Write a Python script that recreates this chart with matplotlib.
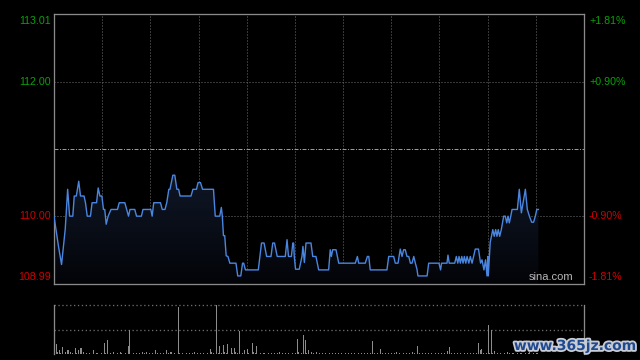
import numpy as np
import matplotlib
matplotlib.use("Agg")
import matplotlib.pyplot as plt
from matplotlib.colors import LinearSegmentedColormap
import matplotlib.patheffects as pe

# ---- data (minutes from session open, HK session = 330 minutes) ----
price_minutes = [0, 2.8, 4.7, 7.0, 8.5, 9.7, 11.7, 12.6, 13.9, 15.4, 16.5, 18.7, 19.6, 20.7,
                 22.7, 23.7, 26.5, 27.5, 28.6, 29.8, 30.8, 31.6, 32.5, 33.7, 35.5, 39.5, 40.6,
                 44.1, 46.4, 47.3, 50.3, 51.4, 54.4, 55.4, 60.3, 61.1, 62.1, 66.3, 67.4, 69.1,
                 70.2, 71.5, 72.2, 74.0, 75.2, 76.5, 77.6, 78.5, 85.3, 86.5, 88.7, 89.7, 91.2,
                 92.5, 99.3, 100.4, 103.2, 104.2, 104.8, 105.5, 106.3, 107.2, 108.3, 109.5,
                 113.3, 114.4, 116.3, 117.4, 118.1, 119.2, 127.2, 129.2, 130.8, 132.4, 135.1,
                 136.2, 137.3, 139.0, 144.0, 145.1, 146.0, 147.8, 148.7, 149.2, 149.6, 150.4,
                 152.7, 154.4, 155.0, 155.9, 156.9, 160.0, 161.1, 163.1, 164.8, 171.0, 172.0,
                 172.7, 173.5, 175.6, 177.3, 187.6, 188.9, 189.7, 193.8, 195.1, 196.0, 196.9,
                 207.3, 208.4, 211.5, 212.5, 214.2, 215.6, 216.7, 217.7, 218.7, 219.8, 220.9,
                 221.9, 222.9, 224.0, 225.0, 226.0, 226.6, 232.3, 233.3, 239.7, 240.7, 241.3,
                 244.7, 245.3, 246.1, 249.5, 250.5, 251.4, 252.2, 253.0, 253.9, 254.7, 255.5,
                 256.4, 257.2, 258.3, 259.2, 260.3, 262.3, 264.3, 265.6, 266.5, 267.7, 268.7,
                 269.6, 270.1, 270.4, 271.6, 273.2, 274.1, 275.0, 275.8, 276.6, 277.5, 278.5,
                 280.0, 281.0, 281.9, 282.7, 283.5, 284.4, 285.2, 288.5, 289.7, 291.0, 293.5,
                 294.7, 296.0, 297.4, 298.6, 299.7, 300.6, 301.6]
prices = [110.00, 109.55, 109.28, 109.81, 110.40, 110.00, 110.00, 110.30, 110.30, 110.52, 110.30,
          110.30, 110.20, 110.00, 110.00, 110.20, 110.20, 110.42, 110.30, 110.30, 110.10, 110.10,
          109.88, 110.00, 110.10, 110.10, 110.20, 110.20, 110.00, 110.10, 110.10, 110.00, 110.00,
          110.10, 110.10, 110.00, 110.20, 110.20, 110.10, 110.10, 110.20, 110.40, 110.40, 110.61,
          110.61, 110.40, 110.40, 110.30, 110.30, 110.40, 110.40, 110.50, 110.50, 110.40, 110.40,
          110.00, 110.00, 110.13, 110.00, 109.71, 109.71, 109.41, 109.40, 109.30, 109.30, 109.11,
          109.11, 109.30, 109.30, 109.20, 109.20, 109.60, 109.60, 109.40, 109.40, 109.60, 109.60,
          109.40, 109.40, 109.65, 109.40, 109.40, 109.60, 109.60, 109.40, 109.21, 109.21, 109.40,
          109.55, 109.31, 109.60, 109.60, 109.40, 109.40, 109.20, 109.20, 109.50, 109.40, 109.50,
          109.50, 109.30, 109.30, 109.40, 109.30, 109.30, 109.40, 109.40, 109.20, 109.20, 109.40,
          109.40, 109.30, 109.30, 109.51, 109.40, 109.50, 109.50, 109.40, 109.40, 109.30, 109.30,
          109.40, 109.30, 109.21, 109.11, 109.11, 109.30, 109.30, 109.20, 109.30, 109.30, 109.42,
          109.30, 109.30, 109.40, 109.30, 109.40, 109.30, 109.40, 109.30, 109.40, 109.30, 109.40,
          109.30, 109.40, 109.30, 109.51, 109.51, 109.30, 109.35, 109.20, 109.35, 109.11, 109.40,
          109.11, 109.61, 109.80, 109.70, 109.80, 109.70, 109.80, 109.70, 109.80, 110.00, 110.00,
          109.90, 110.00, 109.90, 110.00, 110.10, 110.10, 110.40, 110.05, 110.40, 110.10, 110.00,
          109.91, 109.91, 110.00, 110.10, 110.10]

volumes = [2, 21, 5, 9, 2, 15, 1, 4, 9, 9,
           5, 2, 1, 13, 2, 8, 12, 13, 5, 1,
           3, 1, 2, 1, 8, 1, 2, 2, 1, 2,
           1, 22, 2, 29, 1, 2, 1, 5, 1, 2,
           1, 5, 2, 1, 2, 1, 17, 50, 1, 2,
           1, 2, 1, 2, 1, 5, 2, 4, 1, 2,
           1, 2, 1, 8, 2, 1, 2, 1, 2, 1,
           8, 2, 4, 4, 1, 2, 1, 96, 2, 1,
           2, 1, 2, 1, 2, 1, 2, 5, 1, 2,
           1, 2, 1, 2, 1, 2, 1, 11, 4, 2,
           1, 100, 2, 16, 2, 19, 4, 2, 20, 1,
           13, 2, 13, 4, 2, 47, 1, 2, 8, 1,
           11, 2, 1, 23, 5, 2, 17, 1, 2, 1,
           2, 3, 1, 2, 1, 2, 1, 2, 1, 2,
           5, 1, 2, 1, 2, 1, 2, 1, 2, 1,
           2, 31, 4, 1, 2, 39, 29, 2, 8, 1,
           4, 2, 1, 4, 1, 2, 1, 2, 1, 2,
           1, 2, 1, 2, 1, 2, 1, 2, 1, 2,
           1, 2, 1, 2, 1, 2, 1, 2, 1, 2,
           1, 2, 1, 2, 1, 2, 1, 2, 27, 2,
           1, 2, 1, 11, 2, 1, 2, 1, 2, 1,
           2, 1, 2, 5, 1, 2, 1, 2, 1, 2,
           1, 2, 1, 5, 2, 1, 17, 2, 1, 2,
           1, 2, 1, 2, 1, 2, 1, 2, 1, 2,
           1, 2, 1, 2, 1, 7, 14, 2, 1, 2,
           1, 2, 1, 2, 1, 2, 1, 2, 1, 2,
           1, 2, 1, 2, 23, 9, 10, 2, 1, 2,
           60, 2, 49, 2, 6, 1, 2, 1, 2, 1,
           2, 1, 5, 2, 1, 3, 2, 1, 2, 1,
           2, 3, 1, 2, 1, 2, 4, 1, 2, 1,
           2, 3]

prev_close = 111.00
price_ticks = [113.01, 112.00, 110.00, 108.99]
price_labels = ["113.01", "112.00", "110.00", "108.99"]
pct_labels = ["+1.81%", "+0.90%", "-0.90%", "-1.81%"]
session_minutes = 330
grid_minutes = list(range(30, 330, 30))

# ---- figure ----
W, H = 640, 360
fig = plt.figure(figsize=(6.4, 3.6), dpi=100, facecolor="black")
px = 1 / 100 * 72  # one pixel in points

ax = fig.add_axes([54 / W, 76 / H, 530 / W, 270 / H], facecolor="black")
axv = fig.add_axes([54 / W, 5.7 / H, 530 / W, 49.6 / H], facecolor="black")

ymin, ymax = price_ticks[-1], price_ticks[0]
ax.set_xlim(0, session_minutes)
ax.set_ylim(ymin, ymax)

spine_c = "#8a8a8a"
grid_c = "#6e6e6e"
for s in ax.spines.values():
    s.set_color(spine_c)
    s.set_linewidth(px * 1.3)
ax.set_xticks([])
ax.set_yticks([])

# grid
for gm in grid_minutes:
    ax.axvline(gm, color=grid_c, lw=px, ls=(0, (1, 2)), zorder=1)
for yv in [price_ticks[1], price_ticks[2]]:
    ax.axhline(yv, color=grid_c, lw=px, ls=(0, (1, 2)), zorder=1)
ax.axhline(prev_close, color="#9a9a9a", lw=px, ls=(0, (4, 1.5, 1, 1.5)), zorder=1)

# gradient fill under line
t = np.array(price_minutes)
p = np.array(prices)
poly = ax.fill_between(t, p, ymin, color="none", lw=0)
cmap = LinearSegmentedColormap.from_list("g", ["#030408", "#0f1726"])
grad = np.linspace(0, 1, 256).reshape(-1, 1)
im = ax.imshow(grad, extent=[0, session_minutes, ymin, p.max()], origin="lower",
               aspect="auto", cmap=cmap, zorder=2, interpolation="bilinear")
im.set_clip_path(poly.get_paths()[0], transform=ax.transData)
ax.plot(t, p, color="#4a86e0", lw=1.0, zorder=3)
ax.set_xlim(0, session_minutes)
ax.set_ylim(ymin, ymax)

# tick labels
green = "#0aa00a"
red = "#d00000"
fnt = dict(family="Liberation Sans", fontsize=7.7)
for yv, lab, pl in zip(price_ticks, price_labels, pct_labels):
    col = green if yv > prev_close else red
    if yv == ymax:
        va = "top"; dy = -1.5
    elif yv == ymin:
        va = "bottom"; dy = 1.5
    else:
        va = "center"; dy = 0
    ax.annotate(lab, xy=(0, yv), xycoords=("axes fraction", "data"), xytext=(-3, dy),
                textcoords="offset pixels", ha="right", va=va, color=col, **fnt)
    ax.annotate(pl, xy=(1, yv), xycoords=("axes fraction", "data"), xytext=(5, dy),
                textcoords="offset pixels", ha="left", va=va, color=col, **fnt)

ax.annotate("sina.com", xy=(1, 0), xycoords="axes fraction", xytext=(-11, 2),
            textcoords="offset pixels", ha="right", va="bottom", color="#b8b8b8",
            family="Liberation Sans", fontsize=8)

# volume panel
axv.set_xlim(0, session_minutes)
axv.set_ylim(0, 100)
axv.set_xticks([]); axv.set_yticks([])
for k, s in axv.spines.items():
    s.set_color(spine_c)
    s.set_linewidth(px * 1.3)
axv.spines["top"].set_visible(False)
axv.spines["bottom"].set_visible(False)
axv.axhline(100, color=grid_c, lw=px * 1.3, ls=(0, (1, 2)), zorder=1, clip_on=False)
axv.axhline(50, color=grid_c, lw=px * 1.3, ls=(0, (1, 2)), zorder=1)
vm = np.arange(len(volumes))
axv.vlines(vm, 0, volumes, colors="#8c8c8c", lw=0.5, zorder=2, antialiased=False)

# watermark
fig.text(575 / W, 1 - 346 / H, "www.365jz.com", ha="center", va="center",
         color="#1f4a90", fontsize=10, fontweight="bold", family="DejaVu Sans",
         path_effects=[pe.withStroke(linewidth=2.6, foreground="#c8ccd4")])

fig.savefig("out.png", dpi=100, facecolor="black")
